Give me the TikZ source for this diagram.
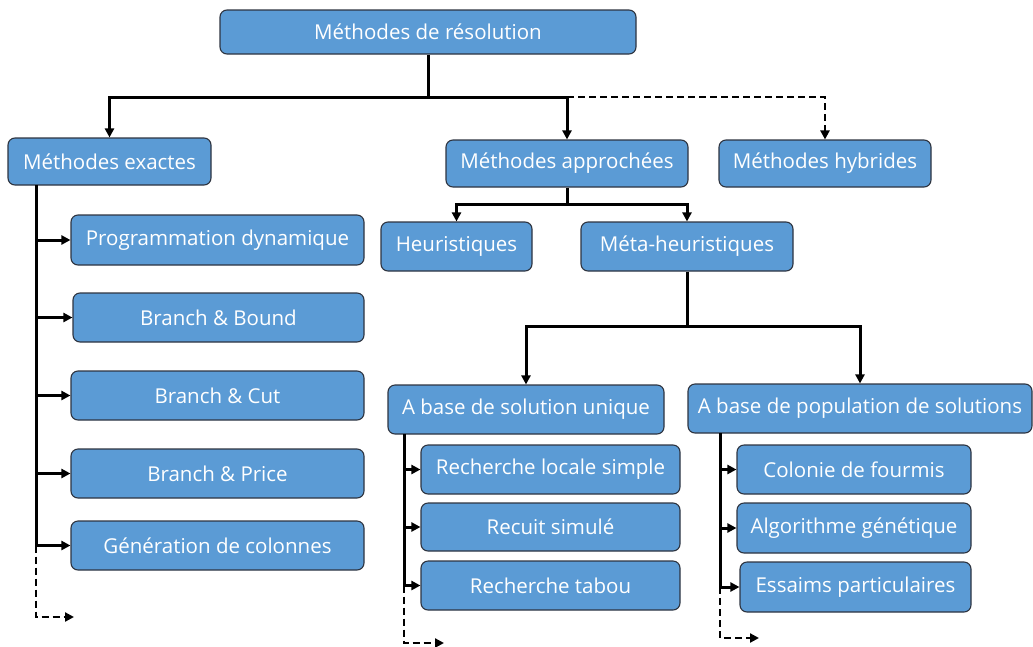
\documentclass[tikz,border=0pt]{standalone}
\usepackage{fontspec}
\setmainfont{Open Sans}
\usetikzlibrary{arrows.meta}
\definecolor{boxfill}{HTML}{5B9BD5}
\definecolor{boxline}{HTML}{2E3440}
\tikzset{
  box/.style={draw=boxline, line width=1.1pt, fill=boxfill, rounded corners=7pt,
    text=white, inner sep=0pt, font=\fontsize{20.5}{23}\selectfont},
  conn/.style={line width=3pt, draw=black},
  arr/.style={conn, -{Triangle[length=9pt,width=9pt]}},
  darr/.style={line width=2.6pt, dash pattern=on 7pt off 4pt, -{Triangle[length=9pt,width=9pt]}},
}
\begin{document}
\begin{tikzpicture}[x=1pt,y=-1pt]
\useasboundingbox (0,0) rectangle (1033,646);
% nodes
\node[box, minimum width=416, minimum height=44] (root) at (428,32) {Méthodes de résolution};
\node[box, minimum width=203, minimum height=47] (ex) at (109.5,161.5) {Méthodes exactes};
\node[box, minimum width=242, minimum height=47] (ap) at (567,163.5) {Méthodes approchées};
\node[box, minimum width=212, minimum height=47] (hy) at (825,163.5) {Méthodes hybrides};
\node[box, minimum width=151, minimum height=49] (he) at (456.5,246.5) {Heuristiques};
\node[box, minimum width=212, minimum height=49] (me) at (687,246.5) {Méta-heuristiques};
\node[box, minimum width=293, minimum height=50] (pd) at (217.5,240) {Programmation dynamique};
\node[box, minimum width=291, minimum height=49] (bb) at (218.5,317.5) {Branch \& Bound};
\node[box, minimum width=293, minimum height=49] (bc) at (217.5,395.5) {Branch \& Cut};
\node[box, minimum width=293, minimum height=49] (bp) at (217.5,473.5) {Branch \& Price};
\node[box, minimum width=293, minimum height=49] (gc) at (217.5,545.5) {Génération de colonnes};
\node[box, minimum width=276, minimum height=49] (su) at (526,409.5) {A base de solution unique};
\node[box, minimum width=344, minimum height=49] (po) at (860,408.5) {A base de population de solutions};
\node[box, minimum width=259, minimum height=49] (rl) at (550.5,469.5) {Recherche locale simple};
\node[box, minimum width=259, minimum height=48] (rs) at (550.5,527) {Recuit simulé};
\node[box, minimum width=259, minimum height=49] (rt) at (550.5,585.5) {Recherche tabou};
\node[box, minimum width=234, minimum height=49] (cf) at (854,469.5) {Colonie de fourmis};
\node[box, minimum width=234, minimum height=50] (ag) at (854,528) {Algorithme génétique};
\node[box, minimum width=231, minimum height=50] (ep) at (855.5,587) {Essaims particulaires};
% junctions
\coordinate (j1) at (428,97);
\coordinate (j2) at (567,97);
\coordinate (j3) at (567,204);
\coordinate (j4) at (687,326);
\coordinate (b1) at (36,185);
\coordinate (b1e) at (36,617);
\coordinate (b1t) at (74,617);
\coordinate (b2) at (404,434);
\coordinate (b2e) at (404,643);
\coordinate (b2t) at (444,643);
\coordinate (b3) at (720,433);
\coordinate (b3e) at (720,638);
\coordinate (b3t) at (759,638);
% top level
\draw[darr] (j2) -| (hy.north);
\draw[conn] (root.south) -- (j1);
\draw[arr] (j1) -| (ex.north);
\draw[arr] (j1) -| (ap.north);
% approchees
\draw[conn] (ap.south) -- (j3);
\draw[arr] (j3) -| (he.north);
\draw[arr] (j3) -| (me.north);
% meta
\draw[conn] (me.south) -- (j4);
\draw[arr] (j4) -| (su.north);
\draw[arr] (j4) -| (po.north);
% exactes bus
\draw[darr] (b1 |- gc.west) -- (b1e) -- (b1t);
\draw[conn] (b1) -- (b1 |- gc.west);
\foreach \n in {pd,bb,bc,bp,gc} \draw[arr] (b1 |- \n.west) -- (\n.west);
% solution unique bus
\draw[darr] (b2 |- rt.west) -- (b2e) -- (b2t);
\draw[conn] (b2) -- (b2 |- rt.west);
\foreach \n in {rl,rs,rt} \draw[arr] (b2 |- \n.west) -- (\n.west);
% population bus
\draw[darr] (b3 |- ep.west) -- (b3e) -- (b3t);
\draw[conn] (b3) -- (b3 |- ep.west);
\foreach \n in {cf,ag,ep} \draw[arr] (b3 |- \n.west) -- (\n.west);
\end{tikzpicture}
\end{document}
